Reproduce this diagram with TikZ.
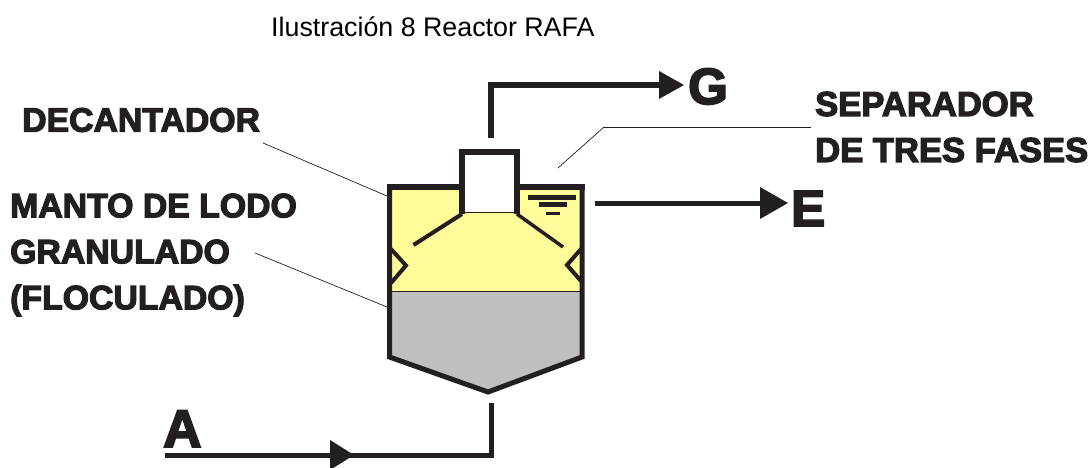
\documentclass[tikz,border=0pt]{standalone}
\usepackage{fontspec}
\setmainfont{Liberation Sans}
\newfontfamily\heavyfont[FakeBold=3.5]{Liberation Sans Bold}
\usepackage{tikz}

\definecolor{lodoyellow}{HTML}{FFFC99}
\definecolor{lodogray}{HTML}{C0BFBD}
\definecolor{inkblack}{HTML}{231F20}

\begin{document}
\begin{tikzpicture}[x=1pt,y=-1pt]
\tikzstyle{every node}+=[inner sep=0pt]
\tikzstyle{label}=[font=\heavyfont\fontsize{33.8}{46}\selectfont,text=inkblack,align=left,anchor=west]
\tikzstyle{letter}=[font=\heavyfont\fontsize{51}{51}\selectfont,text=inkblack,anchor=base west]
\tikzstyle{wall}=[inkblack,line width=5pt,line join=miter]
\tikzstyle{leader}=[inkblack,line width=0.7pt]
\tikzstyle{flow}=[inkblack,line width=5pt]
\useasboundingbox (0,0) rectangle (1089,467);
\node [font=\fontsize{26.8}{30}\selectfont,anchor=base west,text=black] (title) at (271,36) {Ilustración 8 Reactor RAFA};
% tank
\fill [lodoyellow] (389.5,187) rectangle (582,291);
\fill [lodogray] (389.5,291) -- (582,291) -- (582,357) -- (488,392) -- (389.5,357) -- cycle;
\draw [inkblack,line width=1pt] (391,291) -- (580,291);
\draw [wall] (462,187) -- (389.5,187) -- (389.5,357) -- (488,392) -- (582,357) -- (582,187) -- (516.5,187);
\draw [inkblack,line width=6.5pt] (387,187) -- (462,187) (516.5,187) -- (584.5,187);
\fill [white] (462,152) rectangle (516.5,212);
\draw [wall,line width=6pt] (462,214) -- (462,151.5) -- (516.5,151.5) -- (516.5,214);
\draw [inkblack,line width=1.5pt] (462,212.5) -- (516.5,212.5);
% baffles and notches
\draw [inkblack,line width=4pt] (462,214) -- (413.5,245);
\draw [inkblack,line width=3.5pt] (517,214) -- (563,247);
\draw [inkblack,line width=4pt] (391,249) -- (406,265.5) -- (391,283);
\draw [inkblack,line width=4pt] (581,249) -- (567,265) -- (581,281);
% water level
\draw [inkblack,line width=4.5pt] (528,197.5) -- (576,197.5);
\draw [inkblack,line width=4.5pt] (539,204.7) -- (567,204.7);
\draw [inkblack,line width=3pt] (546,213) -- (560,213);
% text
\node [label] (decantador) at (22,120) {DECANTADOR};
\node [label] (manto) at (10,255) {MANTO DE LODO\\GRANULADO\\(FLOCULADO)};
\node [label,font=\heavyfont\fontsize{34.6}{46}\selectfont] (separador) at (815,127) {SEPARADOR\\DE TRES FASES};
\node [letter] (gas) at (688,104) {G};
\node [letter] (efluente) at (791,226) {E};
\node [letter,font=\heavyfont\fontsize{53}{53}\selectfont] (afluente) at (163,447) {A};
% leaders
\coordinate (decantadorend) at (263,143);
\coordinate (decantadortank) at (387,196);
\coordinate (mantoend) at (255,253);
\coordinate (mantotank) at (387,307);
\coordinate (separadorend) at (558,168);
\coordinate (separadorknee) at (604,127);
\coordinate (separadorstart) at (811,127);
\draw [leader] (decantadorend) -- (decantadortank);
\draw [leader] (mantoend) -- (mantotank);
\draw [leader] (separadorend) -- (separadorknee);
\draw [leader,line width=1pt] (separadorknee) -- (separadorstart);
% flows
\coordinate (gasstart) at (491,138);
\coordinate (gascorner) at (491,85);
\coordinate (gastip) at (684,85);
\coordinate (efluentestart) at (595,203);
\coordinate (efluentetip) at (788,203);
\coordinate (afluentestart) at (165,455);
\coordinate (afluentetip) at (354,455);
\coordinate (afluentecorner) at (491,455);
\coordinate (afluenteend) at (491,403);
\draw [flow,line width=6pt] (gasstart) -- (gascorner) -- ([xshift=-5pt]gastip);
\fill [inkblack] (gastip) -- ++(-25,-14) -- ++(0,28) -- cycle;
\draw [flow] (efluentestart) -- ([xshift=-5pt]efluentetip);
\fill [inkblack] (efluentetip) -- ++(-28,-16) -- ++(0,32) -- cycle;
\draw [flow] (afluentestart) -- (afluentecorner) -- (afluenteend);
\fill [inkblack] (afluentetip) -- ++(-24,-15) -- ++(0,30) -- cycle;
\end{tikzpicture}
\end{document}
